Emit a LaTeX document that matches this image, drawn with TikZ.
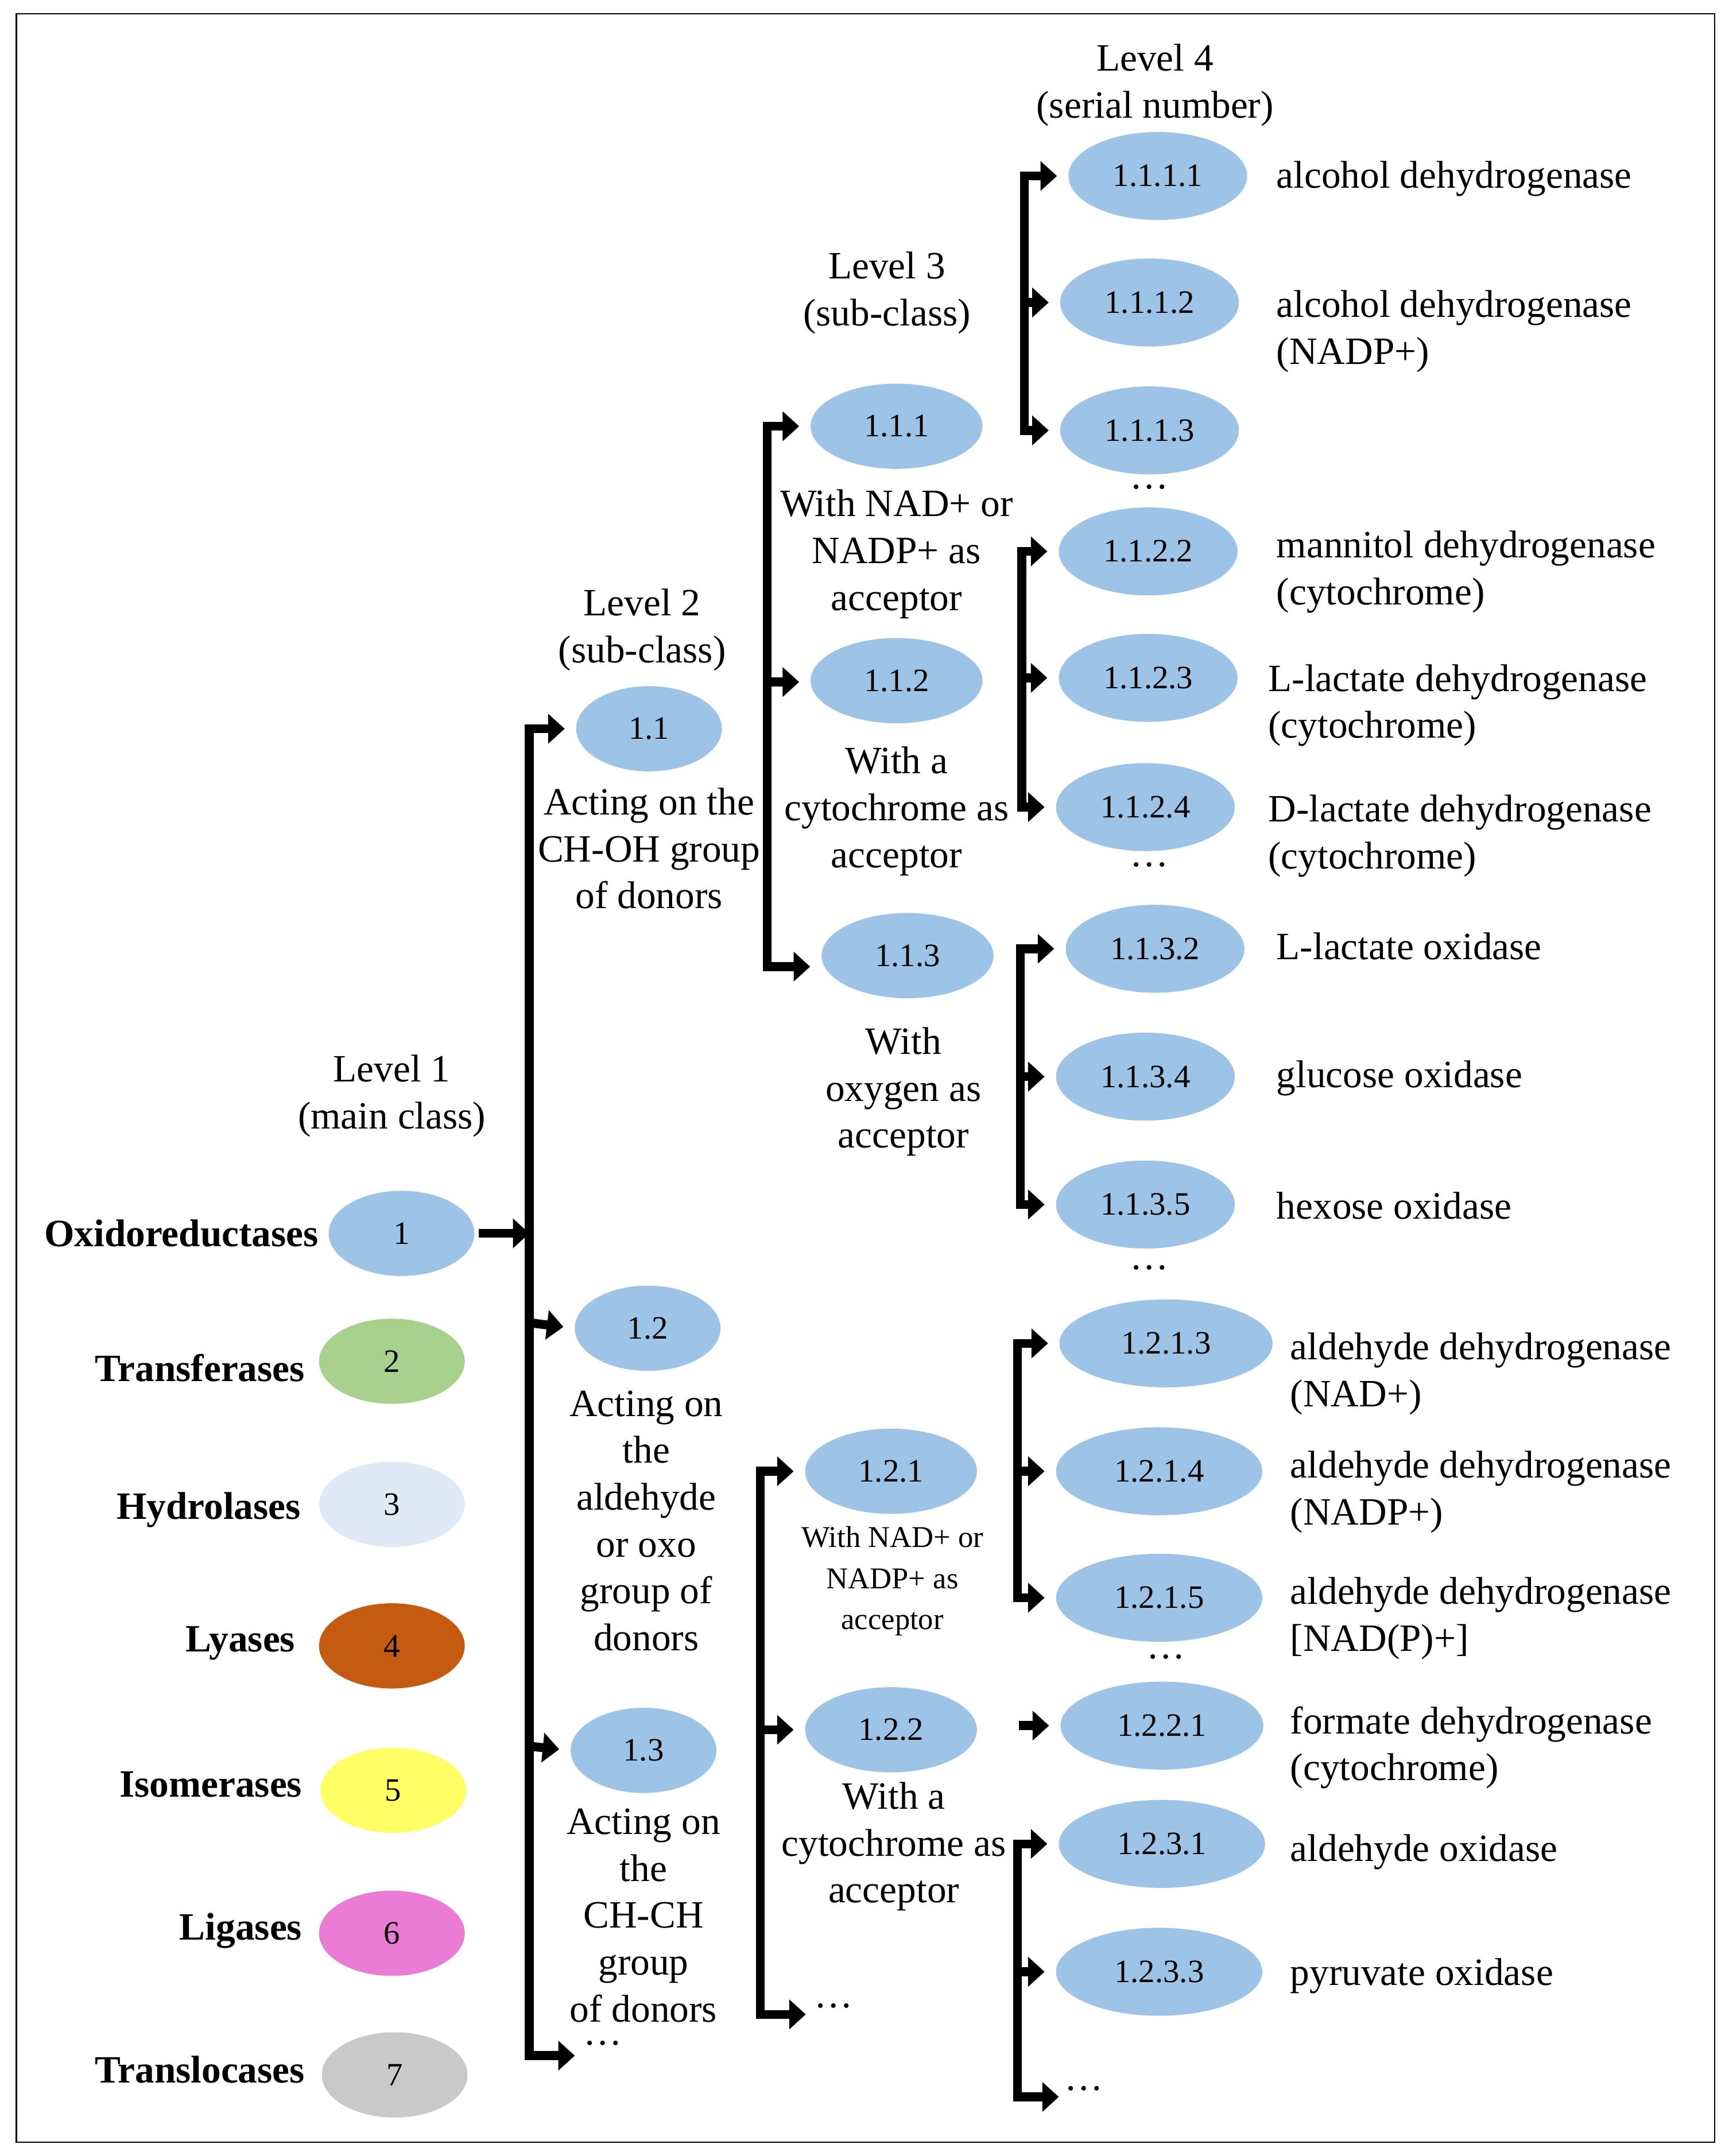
\documentclass[tikz,border=0pt]{standalone}
\usepackage{fontspec}
\setmainfont{Liberation Serif}
\usetikzlibrary{shapes.geometric,arrows.meta}
\definecolor{cblue}{HTML}{9DC3E6}
\definecolor{cgreen}{HTML}{A9D18E}
\definecolor{clight}{HTML}{DEEBF7}
\definecolor{corange}{HTML}{C55A11}
\definecolor{cyellow}{HTML}{FFFF66}
\definecolor{cpink}{HTML}{EA7CD6}
\definecolor{cgrey}{HTML}{C9C9C9}
\begin{document}
\begin{tikzpicture}[x=0.02cm,y=-0.02cm,
  el/.style={ellipse,draw=none,fill=cblue,inner sep=0pt,minimum width=2.12cm,minimum height=1.24cm,font=\fontsize{13.5}{15}\selectfont},
  el3/.style={el,minimum width=2.5cm},
  el4/.style={el,minimum width=2.6cm,minimum height=1.28cm},
  txt/.style={font=\fontsize{16}{19.4}\selectfont,align=center,inner sep=0pt},
  rtxt/.style={font=\fontsize{16}{19.4}\selectfont,align=left,anchor=west,inner sep=0pt},
  lbl/.style={font=\bfseries\fontsize{16}{19.4}\selectfont,anchor=east,inner sep=0pt},
  small/.style={font=\fontsize{12.5}{17}\selectfont,align=center,inner sep=0pt},
  bar/.style={line width=0.13cm,line cap=rect},
  arr/.style={line width=0.13cm,-{Triangle[length=0.24cm,width=0.42cm]},shorten >=0.16cm},
  arr0/.style={line width=0.13cm,-{Triangle[length=0.24cm,width=0.42cm]}}]
\useasboundingbox (0,0) rectangle (1257,1568);
\draw[line width=0.6pt] (12,10) rectangle (1247,1558);

% Level 1
\node[el] (c1) at (292,897) {1};
\node[el,fill=cgreen] (c2) at (285,990) {2};
\node[el,fill=clight] (c3) at (285,1094) {3};
\node[el,fill=corange] (c4) at (285,1197) {4};
\node[el,fill=cyellow] (c5) at (286,1302) {5};
\node[el,fill=cpink] (c6) at (285,1406) {6};
\node[el,fill=cgrey] (c7) at (287,1509) {7};
\node[lbl] (n1) at (232,897) {Oxidoreductases};
\node[lbl] (n2) at (222,995) {Transferases};
\node[lbl] (n3) at (219,1098) {Hydrolases};
\node[lbl] (n4) at (215,1195) {Lyases};
\node[lbl] (n5) at (220,1298) {Isomerases};
\node[lbl] (n6) at (220,1404) {Ligases};
\node[lbl] (n7) at (222,1505) {Translocases};

\node[txt] (lv1) at (285,797) {Level 1\\(main class)};
\node[txt] (lv2) at (467,458) {Level 2\\(sub-class)};
\node[txt] (lv3) at (645,213) {Level 3\\(sub-class)};
\node[txt] (lv4) at (840,62) {Level 4\\(serial number)};

% Level 2
\node[el] (e11) at (472,530) {1.1};
\node[el] (e12) at (471,966) {1.2};
\node[el] (e13) at (468,1273) {1.3};
\node[txt] (t11) at (472,617) {Acting on the\\CH-OH group\\of donors};
\node[txt] (t12) at (470,1106) {Acting on\\the\\aldehyde\\or oxo\\group of\\donors};
\node[txt] (t13) at (468,1393) {Acting on\\the\\CH-CH\\group\\of donors};

% Level 3
\node[el3] (e111) at (652,310) {1.1.1};
\node[el3] (e112) at (652,495) {1.1.2};
\node[el3] (e113) at (660,695) {1.1.3};
\node[el3] (e121) at (648,1070) {1.2.1};
\node[el3] (e122) at (648,1258) {1.2.2};
\node[txt] (t111) at (652,403) {With NAD+ or\\NADP+ as\\acceptor};
\node[txt] (t112) at (652,590) {With a\\cytochrome as\\acceptor};
\node[txt] (t113) at (657,794) {With\\oxygen as\\acceptor};
\node[small] (t121) at (649,1150) {With NAD+ or\\NADP+ as\\acceptor};
\node[txt] (t122) at (650,1343) {With a\\cytochrome as\\acceptor};

% Level 4
\node[el4] (f1111) at (842,128) {1.1.1.1};
\node[el4] (f1112) at (836,220) {1.1.1.2};
\node[el4] (f1113) at (836,313) {1.1.1.3};
\node[el4] (f1122) at (835,401) {1.1.2.2};
\node[el4] (f1123) at (835,493) {1.1.2.3};
\node[el4] (f1124) at (833,587) {1.1.2.4};
\node[el4] (f1132) at (840,690) {1.1.3.2};
\node[el4] (f1134) at (833,783) {1.1.3.4};
\node[el4] (f1135) at (833,876) {1.1.3.5};
\node[el4,minimum width=3.1cm] (f1213) at (848,977) {1.2.1.3};
\node[el4,minimum width=3cm] (f1214) at (843,1070) {1.2.1.4};
\node[el4,minimum width=3cm] (f1215) at (843,1162) {1.2.1.5};
\node[el4,minimum width=2.95cm] (f1221) at (845,1255) {1.2.2.1};
\node[el4,minimum width=3cm] (f1231) at (845,1341) {1.2.3.1};
\node[el4,minimum width=3cm] (f1233) at (843,1434) {1.2.3.3};

\node[rtxt] (r1) at (928,130) {alcohol dehydrogenase};
\node[rtxt] (r2) at (928,241) {alcohol dehydrogenase\\(NADP+)};
\node[rtxt] (r3) at (928,416) {mannitol dehydrogenase\\(cytochrome)};
\node[rtxt] (r4) at (922,513) {L-lactate dehydrogenase\\(cytochrome)};
\node[rtxt] (r5) at (922,608) {D-lactate dehydrogenase\\(cytochrome)};
\node[rtxt] (r6) at (928,688) {L-lactate oxidase};
\node[rtxt] (r7) at (928,784) {glucose oxidase};
\node[rtxt] (r8) at (928,877) {hexose oxidase};
\node[rtxt] (r9) at (938,999) {aldehyde dehydrogenase\\(NAD+)};
\node[rtxt] (r10) at (938,1085) {aldehyde dehydrogenase\\(NADP+)};
\node[rtxt] (r11) at (938,1177) {aldehyde dehydrogenase\\{[}NAD(P)+{]}};
\node[rtxt] (r12) at (938,1271) {formate dehydrogenase\\(cytochrome)};
\node[rtxt] (r13) at (938,1347) {aldehyde oxidase};
\node[rtxt] (r14) at (938,1437) {pyruvate oxidase};

% dots
\node[txt] (d1) at (836,354) {\dots};
\node[txt] (d2) at (836,629) {\dots};
\node[txt] (d3) at (836,922) {\dots};
\node[txt] (d4) at (848,1205) {\dots};
\node[txt,anchor=west] (d5) at (424,1486) {\dots};
\node[txt,anchor=west] (d6) at (592,1459) {\dots};
\node[txt,anchor=west] (d7) at (774,1519) {\dots};

% connectors level 1
\coordinate (s1t) at (385,530); \coordinate (s1m) at (385,897);
\coordinate (s1a) at (385,962); \coordinate (s1b) at (385,1270);
\coordinate (s1e) at (385,1495); \coordinate (s1x) at (418,1495);
\draw[bar] (s1t) -- (s1e);
\draw[arr0] (c1.east) ++(3,0) -- (s1m);
\draw[arr] (s1t) -- (e11.west);
\draw[arr] (s1a) -- (e12.west);
\draw[arr] (s1b) -- (e13.west);
\draw[arr0] (s1e) -- (s1x);

% level 2 bars
\coordinate (s2t) at (558,310); \coordinate (s2m) at (558,496); \coordinate (s2e) at (558,703);
\draw[bar] (s2t) -- (s2e);
\draw[arr] (s2t) -- (e111.west);
\draw[arr] (s2m) -- (e112.west |- s2m);
\draw[arr] (s2e) -- (e113.west |- s2e);
\coordinate (s3t) at (553,1070); \coordinate (s3m) at (553,1258); \coordinate (s3e) at (553,1465);
\coordinate (s3x) at (586,1465);
\draw[bar] (s3t) -- (s3e);
\draw[arr] (s3t) -- (e121.west);
\draw[arr] (s3m) -- (e122.west);
\draw[arr0] (s3e) -- (s3x);

% level 4 bars
\coordinate (a1) at (745,128); \coordinate (a2) at (745,220); \coordinate (a3) at (745,313);
\draw[bar] (a1) -- (a3);
\draw[arr] (a1) -- (f1111.west |- a1); \draw[arr] (a2) -- (f1112.west); \draw[arr] (a3) -- (f1113.west);
\coordinate (b1) at (743,401); \coordinate (b2) at (743,493); \coordinate (b3) at (743,587);
\draw[bar] (b1) -- (b3);
\draw[arr] (b1) -- (f1122.west); \draw[arr] (b2) -- (f1123.west); \draw[arr] (b3) -- (f1124.west);
\coordinate (g1) at (742,690); \coordinate (g2) at (742,783); \coordinate (g3) at (742,876);
\draw[bar] (g1) -- (g3);
\draw[arr] (g1) -- (f1132.west |- g1); \draw[arr] (g2) -- (f1134.west); \draw[arr] (g3) -- (f1135.west);
\coordinate (h1) at (740,977); \coordinate (h2) at (740,1070); \coordinate (h3) at (740,1162);
\draw[bar] (h1) -- (h3);
\draw[arr] (h1) -- (f1213.west |- h1); \draw[arr] (h2) -- (f1214.west); \draw[arr] (h3) -- (f1215.west);
\coordinate (k0) at (741,1255);
\draw[arr] (k0) -- (f1221.west);
\coordinate (m1) at (740,1341); \coordinate (m2) at (740,1434); \coordinate (m3) at (740,1525);
\coordinate (m4) at (770,1525);
\draw[bar] (m1) -- (m3);
\draw[arr] (m1) -- (f1231.west |- m1); \draw[arr] (m2) -- (f1233.west); \draw[arr0] (m3) -- (m4);
\end{tikzpicture}
\end{document}
